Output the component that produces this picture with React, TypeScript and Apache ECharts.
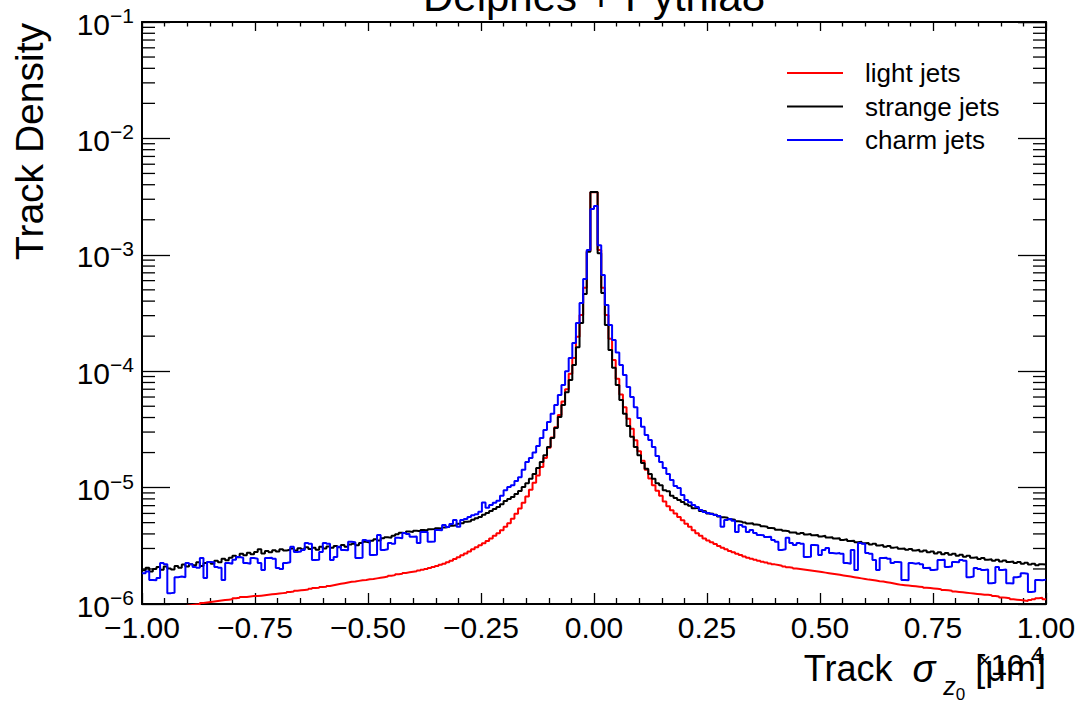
import React, { useEffect, useRef } from "react";
import * as echarts from "echarts";

const FONT = '"Liberation Sans", Arial, Helvetica, sans-serif';
const X_MIN = -1;
const X_MAX = 1;
const BIN_WIDTH = 0.008; // 250 bins over [-1, 1] (x 10^4 um)
const Y_MIN = 1e-6;
const Y_MAX = 1e-1;
const minorMultipliers = [2, 3, 4, 5, 6, 7, 8, 9];

const seriesNames = ["light jets", "strange jets", "charm jets"];
const seriesColors = ["#ff0000", "#000000", "#0000ff"];

// light jets, bins -1.000 .. 0.000
const lightLeft = [
  8.5e-7, 8.6e-7, 8.7e-7, 8.8e-7, 8.9e-7, 9.0e-7, 9.1e-7, 9.2e-7, 9.3e-7, 9.4e-7,
  9.5e-7, 9.6e-7, 9.7e-7, 9.8e-7, 9.9e-7, 9.95e-7, 1.02e-6, 1.03e-6, 1.04e-6, 1.05e-6,
  1.06e-6, 1.07e-6, 1.08e-6, 1.09e-6, 1.1e-6, 1.12e-6, 1.13e-6, 1.15e-6, 1.15e-6, 1.16e-6,
  1.17e-6, 1.17e-6, 1.18e-6, 1.19e-6, 1.2e-6, 1.21e-6, 1.22e-6, 1.23e-6, 1.24e-6, 1.25e-6,
  1.27e-6, 1.28e-6, 1.3e-6, 1.31e-6, 1.32e-6, 1.33e-6, 1.35e-6, 1.37e-6, 1.38e-6, 1.4e-6,
  1.41e-6, 1.43e-6, 1.45e-6, 1.47e-6, 1.49e-6, 1.51e-6, 1.53e-6, 1.55e-6, 1.56e-6, 1.58e-6,
  1.6e-6, 1.61e-6, 1.63e-6, 1.64e-6, 1.66e-6, 1.68e-6, 1.7e-6, 1.72e-6, 1.75e-6, 1.77e-6,
  1.8e-6, 1.82e-6, 1.85e-6, 1.87e-6, 1.89e-6, 1.91e-6, 1.94e-6, 1.97e-6, 2.0e-6, 2.04e-6,
  2.08e-6, 2.12e-6, 2.17e-6, 2.22e-6, 2.28e-6, 2.35e-6, 2.43e-6, 2.52e-6, 2.62e-6, 2.72e-6,
  2.83e-6, 2.95e-6, 3.07e-6, 3.2e-6, 3.33e-6, 3.48e-6, 3.65e-6, 3.85e-6, 4.05e-6, 4.3e-6,
  4.6e-6, 4.95e-6, 5.4e-6, 5.95e-6, 6.6e-6, 7.4e-6, 8.4e-6, 9.6e-6, 1.1e-5, 1.27e-5,
  1.5e-5, 1.8e-5, 2.2e-5, 2.7e-5, 3.3e-5, 4.2e-5, 5.5e-5, 7.0e-5, 9.5e-5, 1.3e-4,
  1.98e-4, 3.04e-4, 5.2e-4, 1.08e-3, 3.44e-3,
];
// light jets, bins 0.000 .. 1.000
const lightRight = [
  3.44e-3, 1.1e-3, 5.2e-4, 3.04e-4, 1.9e-4, 1.25e-4, 8.6e-5, 6.3e-5, 4.9e-5, 3.9e-5,
  3.2e-5, 2.55e-5, 2.05e-5, 1.7e-5, 1.42e-5, 1.2e-5, 1.05e-5, 9.4e-6, 8.5e-6, 7.6e-6,
  6.9e-6, 6.4e-6, 6.0e-6, 5.6e-6, 5.25e-6, 4.9e-6, 4.6e-6, 4.3e-6, 4.05e-6, 3.85e-6,
  3.65e-6, 3.52e-6, 3.4e-6, 3.27e-6, 3.15e-6, 3.05e-6, 2.95e-6, 2.86e-6, 2.78e-6, 2.7e-6,
  2.63e-6, 2.56e-6, 2.5e-6, 2.45e-6, 2.4e-6, 2.35e-6, 2.31e-6, 2.27e-6, 2.23e-6, 2.19e-6,
  2.16e-6, 2.13e-6, 2.1e-6, 2.07e-6, 2.05e-6, 2.02e-6, 2.0e-6, 1.98e-6, 1.96e-6, 1.94e-6,
  1.92e-6, 1.9e-6, 1.88e-6, 1.86e-6, 1.84e-6, 1.82e-6, 1.8e-6, 1.78e-6, 1.76e-6, 1.74e-6,
  1.72e-6, 1.7e-6, 1.68e-6, 1.66e-6, 1.64e-6, 1.62e-6, 1.61e-6, 1.59e-6, 1.57e-6, 1.56e-6,
  1.54e-6, 1.52e-6, 1.5e-6, 1.48e-6, 1.46e-6, 1.45e-6, 1.44e-6, 1.43e-6, 1.42e-6, 1.41e-6,
  1.4e-6, 1.38e-6, 1.37e-6, 1.36e-6, 1.35e-6, 1.34e-6, 1.32e-6, 1.31e-6, 1.3e-6, 1.28e-6,
  1.27e-6, 1.26e-6, 1.25e-6, 1.24e-6, 1.23e-6, 1.22e-6, 1.21e-6, 1.2e-6, 1.2e-6, 1.19e-6,
  1.17e-6, 1.16e-6, 1.14e-6, 1.13e-6, 1.12e-6, 1.1e-6, 1.09e-6, 1.08e-6, 1.07e-6, 1.06e-6,
  1.08e-6, 1.1e-6, 1.12e-6, 1.13e-6, 1.1e-6,
];

// strange jets
const strangeLeft = [
  1.95e-6, 2.05e-6, 1.9e-6, 2.0e-6, 2.08e-6, 1.97e-6, 2.1e-6, 2.02e-6, 1.98e-6, 2.12e-6,
  2.05e-6, 2.18e-6, 2.1e-6, 2.2e-6, 2.15e-6, 2.28e-6, 2.12e-6, 2.25e-6, 2.3e-6, 2.22e-6,
  2.35e-6, 2.28e-6, 2.45e-6, 2.38e-6, 2.5e-6, 2.6e-6, 2.52e-6, 2.7e-6, 2.62e-6, 2.75e-6,
  2.68e-6, 2.8e-6, 2.95e-6, 2.72e-6, 2.85e-6, 2.78e-6, 2.9e-6, 2.82e-6, 2.95e-6, 2.88e-6,
  2.92e-6, 3.0e-6, 2.88e-6, 3.02e-6, 2.95e-6, 3.08e-6, 2.97e-6, 3.05e-6, 2.93e-6, 3.1e-6,
  3.0e-6, 3.12e-6, 3.05e-6, 3.15e-6, 3.08e-6, 3.22e-6, 3.1e-6, 3.25e-6, 3.3e-6, 3.2e-6,
  3.35e-6, 3.42e-6, 3.38e-6, 3.5e-6, 3.6e-6, 3.52e-6, 3.68e-6, 3.75e-6, 3.7e-6, 3.85e-6,
  3.98e-6, 4.1e-6, 4.05e-6, 4.2e-6, 4.15e-6, 4.25e-6, 4.22e-6, 4.32e-6, 4.28e-6, 4.38e-6,
  4.4e-6, 4.48e-6, 4.45e-6, 4.55e-6, 4.6e-6, 4.7e-6, 4.75e-6, 4.88e-6, 4.95e-6, 5.08e-6,
  5.15e-6, 5.3e-6, 5.45e-6, 5.6e-6, 5.85e-6, 6.05e-6, 6.3e-6, 6.55e-6, 6.8e-6, 7.2e-6,
  7.67e-6, 7.98e-6, 8.3e-6, 8.8e-6, 9.35e-6, 1.01e-5, 1.09e-5, 1.19e-5, 1.31e-5, 1.47e-5,
  1.66e-5, 1.9e-5, 2.23e-5, 2.67e-5, 3.25e-5, 4.05e-5, 5.13e-5, 6.6e-5, 8.4e-5, 1.13e-4,
  1.61e-4, 2.6e-4, 4.6e-4, 1.06e-3, 3.46e-3,
];
const strangeRight = [
  3.46e-3, 1.03e-3, 4.7e-4, 2.5e-4, 1.52e-4, 1.07e-4, 7.6e-5, 5.66e-5, 4.3e-5, 3.38e-5,
  2.74e-5, 2.23e-5, 1.9e-5, 1.63e-5, 1.45e-5, 1.31e-5, 1.19e-5, 1.09e-5, 1.05e-5, 9.5e-6,
  9.3e-6, 8.5e-6, 8.13e-6, 7.82e-6, 7.52e-6, 7.2e-6, 7.0e-6, 6.65e-6, 6.7e-6, 6.3e-6,
  6.25e-6, 6.0e-6, 5.95e-6, 5.85e-6, 5.65e-6, 5.55e-6, 5.5e-6, 5.35e-6, 5.3e-6, 5.15e-6,
  5.1e-6, 5.02e-6, 4.92e-6, 4.95e-6, 4.82e-6, 4.78e-6, 4.65e-6, 4.62e-6, 4.5e-6, 4.48e-6,
  4.35e-6, 4.35e-6, 4.25e-6, 4.22e-6, 4.12e-6, 4.12e-6, 4.02e-6, 4.08e-6, 3.95e-6, 4.0e-6,
  3.9e-6, 3.92e-6, 3.8e-6, 3.85e-6, 3.72e-6, 3.75e-6, 3.65e-6, 3.68e-6, 3.55e-6, 3.6e-6,
  3.48e-6, 3.5e-6, 3.4e-6, 3.42e-6, 3.32e-6, 3.35e-6, 3.25e-6, 3.3e-6, 3.18e-6, 3.22e-6,
  3.1e-6, 3.15e-6, 3.05e-6, 3.08e-6, 2.98e-6, 3.0e-6, 2.92e-6, 2.97e-6, 2.88e-6, 2.92e-6,
  2.82e-6, 2.88e-6, 2.78e-6, 2.82e-6, 2.72e-6, 2.78e-6, 2.68e-6, 2.74e-6, 2.65e-6, 2.7e-6,
  2.6e-6, 2.65e-6, 2.55e-6, 2.6e-6, 2.5e-6, 2.52e-6, 2.44e-6, 2.48e-6, 2.4e-6, 2.42e-6,
  2.35e-6, 2.4e-6, 2.32e-6, 2.36e-6, 2.3e-6, 2.32e-6, 2.25e-6, 2.3e-6, 2.22e-6, 2.26e-6,
  2.18e-6, 2.22e-6, 2.15e-6, 2.2e-6, 2.18e-6,
];

// charm jets
const charmLeft = [
  1.84e-6, 1.9e-6, 1.61e-6, 1.6e-6, 1.67e-6, 2.25e-6, 2.2e-6, 1.24e-6, 1.25e-6, 1.7e-6,
  1.72e-6, 1.7e-6, 2.25e-6, 2.2e-6, 2.08e-6, 2.05e-6, 2.48e-6, 1.67e-6, 2.3e-6, 2.28e-6,
  2.08e-6, 2.05e-6, 1.61e-6, 2.25e-6, 2.22e-6, 2.4e-6, 2.53e-6, 2.5e-6, 2.25e-6, 2.22e-6,
  2.48e-6, 2.45e-6, 2.25e-6, 1.96e-6, 2.48e-6, 2.5e-6, 2.45e-6, 2.04e-6, 2.0e-6, 2.25e-6,
  2.28e-6, 3.1e-6, 2.8e-6, 2.82e-6, 2.91e-6, 3.35e-6, 3.3e-6, 2.39e-6, 2.4e-6, 2.8e-6,
  3.35e-6, 3.3e-6, 2.39e-6, 2.53e-6, 3.1e-6, 2.91e-6, 2.9e-6, 3.42e-6, 3.4e-6, 2.48e-6,
  2.5e-6, 3.55e-6, 3.5e-6, 2.64e-6, 2.65e-6, 3.92e-6, 2.91e-6, 2.95e-6, 3.35e-6, 3.3e-6,
  3.7e-6, 3.68e-6, 4.07e-6, 4.0e-6, 3.78e-6, 3.8e-6, 3.35e-6, 4.15e-6, 4.15e-6, 3.42e-6,
  3.45e-6, 4.32e-6, 4.3e-6, 4.77e-6, 4.59e-6, 4.86e-6, 5.27e-6, 4.6e-6, 5.27e-6, 5.37e-6,
  5.6e-6, 5.8e-6, 5.9e-6, 6.2e-6, 7.45e-6, 6.7e-6, 7.1e-6, 7.4e-6, 7.7e-6, 8.5e-6,
  9.5e-6, 1.01e-5, 1.05e-5, 1.14e-5, 1.23e-5, 1.42e-5, 1.66e-5, 1.8e-5, 2.0e-5, 2.28e-5,
  2.67e-5, 3.13e-5, 3.66e-5, 4.3e-5, 5.13e-5, 6.25e-5, 7.6e-5, 1.0e-4, 1.3e-4, 1.75e-4,
  2.6e-4, 3.85e-4, 6.2e-4, 1.1e-3, 2.47e-3,
];
const charmRight = [
  2.63e-3, 1.21e-3, 6.7e-4, 3.71e-4, 2.5e-4, 1.85e-4, 1.45e-4, 1.13e-4, 9.27e-5, 7.3e-5,
  6.0e-5, 4.9e-5, 3.97e-5, 3.34e-5, 2.83e-5, 2.56e-5, 2.23e-5, 1.87e-5, 1.66e-5, 1.47e-5,
  1.31e-5, 1.16e-5, 1.03e-5, 9.9e-6, 8.63e-6, 7.82e-6, 7.5e-6, 7.09e-6, 6.8e-6, 6.42e-6,
  6.17e-6, 6.06e-6, 5.93e-6, 5.82e-6, 5.7e-6, 4.6e-6, 5.27e-6, 5.37e-6, 5.2e-6, 4.15e-6,
  4.77e-6, 4.6e-6, 4.15e-6, 4.32e-6, 4.07e-6, 3.92e-6, 3.9e-6, 3.76e-6, 3.78e-6, 3.55e-6,
  3.42e-6, 2.91e-6, 2.95e-6, 3.7e-6, 3.35e-6, 3.21e-6, 3.35e-6, 3.3e-6, 2.53e-6, 2.55e-6,
  3.21e-6, 3.2e-6, 2.64e-6, 2.91e-6, 3.03e-6, 2.74e-6, 2.72e-6, 2.74e-6, 2.7e-6, 2.25e-6,
  2.22e-6, 2.91e-6, 1.96e-6, 3.35e-6, 3.3e-6, 2.74e-6, 2.7e-6, 2.39e-6, 1.96e-6, 2.48e-6,
  2.5e-6, 2.45e-6, 2.25e-6, 2.3e-6, 2.28e-6, 1.61e-6, 1.6e-6, 2.25e-6, 2.22e-6, 2.25e-6,
  2.2e-6, 2.04e-6, 2.05e-6, 1.96e-6, 1.98e-6, 2.39e-6, 2.4e-6, 2.08e-6, 2.1e-6, 2.3e-6,
  2.28e-6, 2.39e-6, 2.35e-6, 1.7e-6, 1.72e-6, 2.04e-6, 2.0e-6, 1.96e-6, 1.98e-6, 1.51e-6,
  1.52e-6, 2.08e-6, 1.96e-6, 1.98e-6, 1.51e-6, 1.5e-6, 1.7e-6, 1.72e-6, 1.84e-6, 1.82e-6,
  1.27e-6, 1.28e-6, 1.61e-6, 1.6e-6, 1.62e-6,
];

const lightJets = [...lightLeft, ...lightRight];
const strangeJets = [...strangeLeft, ...strangeRight];
const charmJets = [...charmLeft, ...charmRight];
const allSeries = [lightJets, strangeJets, charmJets];

function toSteps(values: number[]) {
  const pts: number[][] = values.map((v, i) => [X_MIN + i * BIN_WIDTH, v]);
  pts.push([X_MAX, values[values.length - 1]]);
  return pts;
}

function xLabel(v: number) {
  const s = Math.abs(v).toFixed(2);
  return v < -1e-9 ? "\u2212" + s : s;
}

function yLabel(v: number) {
  const e = Math.round(Math.log10(v));
  const exp = e < 0 ? "\u2212" + Math.abs(e) : String(e);
  return `{b|10}{s|${exp}}`;
}

const axisLineStyle = { color: "#000", width: 2 };
const tickStyle = { color: "#000", width: 1.3 };

export default function App() {
  const ref = useRef<HTMLDivElement>(null);

  useEffect(() => {
    if (!ref.current) return;
    const chart = echarts.init(ref.current, null, { renderer: "svg" });

    const option: any = {
      animation: false,
      backgroundColor: "#ffffff",
      textStyle: { fontFamily: FONT },
      grid: { left: 142, right: 40, top: 22, bottom: 108, containLabel: false, outerBoundsMode: "none" },
      legend: {
        data: seriesNames,
        orient: "vertical",
        left: 787,
        top: 60,
        padding: 0,
        itemWidth: 56,
        itemHeight: 2,
        itemGap: 7.5,
        icon: "rect",
        selectedMode: false,
        textStyle: { fontSize: 26, fontFamily: FONT, color: "#000", lineHeight: 26, padding: [0, 0, 0, 17] },
      },
      xAxis: [
        {
          type: "value",
          position: "bottom",
          min: X_MIN,
          max: X_MAX,
          interval: 0.25,
          axisLine: { show: true, onZero: false, lineStyle: axisLineStyle },
          axisTick: { show: true, inside: true, length: 11, lineStyle: tickStyle },
          minorTick: { show: true, splitNumber: 5, length: 6, lineStyle: tickStyle },
          axisLabel: {
            show: true,
            fontSize: 30,
            fontFamily: FONT,
            color: "#000",
            margin: 8,
            showMinLabel: true,
            showMaxLabel: true,
            formatter: xLabel,
          },
          splitLine: { show: false },
        },
        {
          type: "value",
          position: "top",
          min: X_MIN,
          max: X_MAX,
          interval: 0.25,
          axisLine: { show: true, onZero: false, lineStyle: axisLineStyle },
          axisTick: { show: true, inside: true, length: 9, lineStyle: tickStyle },
          minorTick: { show: true, splitNumber: 5, length: 4.5, lineStyle: tickStyle },
          axisLabel: { show: false },
          splitLine: { show: false },
        },
      ],
      yAxis: [
        {
          type: "log",
          logBase: 10,
          position: "left",
          min: Y_MIN,
          max: Y_MAX,
          axisLine: { show: true, onZero: false, lineStyle: axisLineStyle },
          axisTick: { show: true, inside: true, length: 28, lineStyle: tickStyle },
          minorTick: { show: false },
          axisLabel: {
            show: true,
            margin: 8,
            showMinLabel: true,
            showMaxLabel: true,
            formatter: yLabel,
            rich: {
              b: { fontSize: 30, fontFamily: FONT, color: "#000", lineHeight: 34, verticalAlign: "bottom" },
              s: { fontSize: 21, fontFamily: FONT, color: "#000", lineHeight: 21, verticalAlign: "top" },
            },
          },
          splitLine: { show: false },
        },
        {
          type: "log",
          logBase: 10,
          position: "right",
          min: Y_MIN,
          max: Y_MAX,
          axisLine: { show: true, onZero: false, lineStyle: axisLineStyle },
          axisTick: { show: true, inside: true, length: 28, lineStyle: tickStyle },
          minorTick: { show: false },
          axisLabel: { show: false },
          splitLine: { show: false },
        },
      ],
      series: allSeries.map((vals, idx) => ({
        name: seriesNames[idx],
        type: "line",
        step: "end",
        xAxisIndex: 0,
        yAxisIndex: 0,
        data: toSteps(vals),
        symbol: "none",
        showSymbol: false,
        color: seriesColors[idx],
        lineStyle: { color: seriesColors[idx], width: 2 },
        clip: true,
        silent: true,
        emphasis: { disabled: true },
        z: 2 + idx,
      })),
    };

    chart.setOption(option);

    const xl = chart.convertToPixel({ xAxisIndex: 0 }, X_MIN) as number;
    const xr = chart.convertToPixel({ xAxisIndex: 0 }, X_MAX) as number;
    const graphics: any[] = [];
    for (let e = -6; e < -1; e++) {
      for (const m of minorMultipliers) {
        const y = chart.convertToPixel({ yAxisIndex: 0 }, m * Math.pow(10, e)) as number;
        graphics.push({
          type: "line",
          silent: true,
          z: 20,
          shape: { x1: xl, y1: y, x2: xl + 13, y2: y },
          style: { stroke: "#000", lineWidth: 1.3 },
        });
        graphics.push({
          type: "line",
          silent: true,
          z: 20,
          shape: { x1: xr, y1: y, x2: xr - 13, y2: y },
          style: { stroke: "#000", lineWidth: 1.3 },
        });
      }
    }

    graphics.push({
      type: "text",
      x: (xl + xr) / 2,
      y: -4,
      z: 30,
      style: { text: "Delphes + Pythia8", fontSize: 42, fontFamily: FONT, fill: "#000", align: "center", verticalAlign: "middle" },
    });
    graphics.push({
      type: "text",
      x: 29,
      y: 23,
      rotation: Math.PI / 2,
      z: 30,
      style: { text: "Track Density", fontSize: 39, fontFamily: FONT, fill: "#000", align: "right", verticalAlign: "middle" },
    });
    graphics.push({
      type: "text",
      x: xr,
      y: 650,
      z: 30,
      style: {
        text: "{a|Track }{g|\u03c3}{s|z}{t|0}{a| [\u03bcm]}",
        align: "right",
        verticalAlign: "top",
        fill: "#000",
        rich: {
          a: { fontSize: 36, fontFamily: FONT, fill: "#000", color: "#000", lineHeight: 36, verticalAlign: "top" },
          g: { fontSize: 38, fontFamily: FONT, fontStyle: "italic", fill: "#000", color: "#000", lineHeight: 36, padding: [0, 0, 0, 10], verticalAlign: "top" },
          s: { fontSize: 25, fontFamily: FONT, fontStyle: "italic", fill: "#000", color: "#000", lineHeight: 25, padding: [23, 0, 0, 8], verticalAlign: "top" },
          t: { fontSize: 17, fontFamily: FONT, fill: "#000", color: "#000", lineHeight: 17, padding: [36, 0, 0, 0], verticalAlign: "top" },
        },
      },
    });
    graphics.push({
      type: "text",
      x: 991,
      y: 660,
      z: 31,
      style: { text: "\u00d7", fontSize: 22, fontFamily: FONT, fill: "#000", align: "right", verticalAlign: "middle" },
    });
    graphics.push({
      type: "text",
      x: 1024,
      y: 664,
      z: 31,
      style: { text: "10", fontSize: 30, fontFamily: FONT, fill: "#000", align: "right", verticalAlign: "middle" },
    });
    graphics.push({
      type: "text",
      x: 1044,
      y: 655,
      z: 31,
      style: { text: "4", fontSize: 24, fontFamily: FONT, fill: "#000", align: "right", verticalAlign: "middle" },
    });

    chart.setOption({ graphic: graphics });

    return () => chart.dispose();
  }, []);

  return (
    <div
      ref={ref}
      style={{ position: "fixed", left: 0, top: 0, width: 1086, height: 712, background: "#ffffff" }}
    />
  );
}
